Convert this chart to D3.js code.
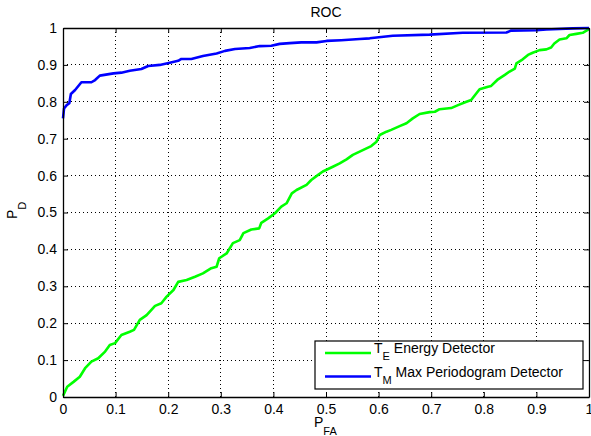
<!DOCTYPE html>
<html>
<head>
<meta charset="utf-8">
<script src="https://cdn.jsdelivr.net/npm/d3@7"></script>
<style>
body { margin: 0; background: #fff; }
text { font-family: "Liberation Sans", Arial, Helvetica, sans-serif; fill: #000; }
</style>
</head>
<body>
<script>
// ticks
var tickVals = [0, 0.1, 0.2, 0.3, 0.4, 0.5, 0.6, 0.7, 0.8, 0.9, 1];
var tickLabels = ["0", "0.1", "0.2", "0.3", "0.4", "0.5", "0.6", "0.7", "0.8", "0.9", "1"];

// T_E energy detector
var pfaE = [0, 0.008, 0.02, 0.032, 0.042, 0.054, 0.067, 0.08, 0.089, 0.099, 0.111, 0.127, 0.135, 0.146, 0.159,
  0.175, 0.187, 0.197, 0.21, 0.219, 0.235, 0.251, 0.266, 0.282, 0.292, 0.297, 0.311, 0.323, 0.336, 0.343,
  0.358, 0.373, 0.377, 0.39, 0.403, 0.415, 0.425, 0.435, 0.444, 0.463, 0.472, 0.485, 0.494, 0.513, 0.526,
  0.539, 0.551, 0.57, 0.586, 0.596, 0.602, 0.615, 0.624, 0.64, 0.653, 0.665, 0.678, 0.697, 0.707, 0.716,
  0.738, 0.751, 0.767, 0.776, 0.786, 0.792, 0.808, 0.814, 0.827, 0.84, 0.849, 0.859, 0.862, 0.874, 0.884,
  0.893, 0.906, 0.919, 0.928, 0.934, 0.944, 0.957, 0.963, 0.976, 0.988, 1];
var pdE = [0.003, 0.028, 0.041, 0.055, 0.078, 0.096, 0.105, 0.123, 0.141, 0.146, 0.168, 0.177, 0.182, 0.209, 0.222,
  0.247, 0.254, 0.272, 0.29, 0.312, 0.317, 0.326, 0.335, 0.349, 0.353, 0.376, 0.389, 0.417, 0.425, 0.444,
  0.454, 0.457, 0.472, 0.484, 0.498, 0.516, 0.525, 0.552, 0.561, 0.575, 0.588, 0.602, 0.611, 0.624, 0.633,
  0.644, 0.656, 0.669, 0.68, 0.692, 0.71, 0.719, 0.724, 0.734, 0.742, 0.755, 0.767, 0.772, 0.773, 0.78,
  0.783, 0.791, 0.8, 0.805, 0.823, 0.834, 0.841, 0.843, 0.861, 0.873, 0.882, 0.89, 0.904, 0.915, 0.927,
  0.933, 0.94, 0.942, 0.947, 0.958, 0.969, 0.972, 0.981, 0.984, 0.987, 0.997];

// T_M max periodogram detector
var pfaM = [0, 0.002, 0.007, 0.012, 0.015, 0.023, 0.035, 0.054, 0.061, 0.07, 0.096, 0.111, 0.127, 0.149, 0.162,
  0.184, 0.203, 0.219, 0.225, 0.244, 0.266, 0.292, 0.308, 0.327, 0.355, 0.374, 0.396, 0.412, 0.431, 0.453,
  0.482, 0.501, 0.529, 0.564, 0.583, 0.627, 0.697, 0.76, 0.843, 0.852, 0.9, 0.919, 0.969, 1];
var pdM = [0.755, 0.782, 0.791, 0.796, 0.821, 0.832, 0.853, 0.853, 0.859, 0.871, 0.877, 0.879, 0.884, 0.889, 0.897,
  0.9, 0.906, 0.911, 0.916, 0.916, 0.924, 0.931, 0.938, 0.943, 0.946, 0.951, 0.952, 0.957, 0.959, 0.961,
  0.961, 0.965, 0.967, 0.97, 0.972, 0.979, 0.982, 0.987, 0.988, 0.993, 0.994, 0.996, 0.999, 1];

var seriesNames = ["Energy Detector", "Max Periodogram Detector"];
var seriesSubs = ["E", "M"];
var seriesColors = ["#00ff00", "#0000ff"];

var W = 591, H = 436;
var margin = {top: 28, right: 2, bottom: 39, left: 63},
  width = W - margin.left - margin.right,
  height = H - margin.top - margin.bottom;

var svg = d3.select("body").append("svg")
  .attr("width", W)
  .attr("height", H);

var g = svg.append("g")
  .attr("transform", "translate(" + margin.left + "," + margin.top + ")");

var x = d3.scaleLinear().domain([0, 1]).range([0, width]);
var y = d3.scaleLinear().domain([0, 1]).range([height, 0]);

// 格線
var inner = tickVals.slice(1, -1);
g.selectAll("line.gx").data(inner).enter().append("line")
  .attr("x1", d => x(d)).attr("x2", d => x(d))
  .attr("y1", 0).attr("y2", height)
  .attr("stroke", "#000").attr("stroke-width", 1)
  .attr("stroke-dasharray", "1,3")
  .attr("shape-rendering", "crispEdges");
g.selectAll("line.gy").data(inner).enter().append("line")
  .attr("y1", d => y(d)).attr("y2", d => y(d))
  .attr("x1", 0).attr("x2", width)
  .attr("stroke", "#000").attr("stroke-width", 1)
  .attr("stroke-dasharray", "1,3")
  .attr("shape-rendering", "crispEdges");

// curves
var line = d3.line()
  .x(d => x(d[0]))
  .y(d => y(d[1]));

var series = [d3.zip(pfaE, pdE), d3.zip(pfaM, pdM)];
g.selectAll("path.roc").data(series).enter().append("path")
  .attr("class", "roc")
  .attr("d", line)
  .attr("fill", "none")
  .attr("stroke", (d, i) => seriesColors[i])
  .attr("stroke-width", 2.6)
  .attr("stroke-linejoin", "round");

// axes, ticks pointing inward like matlab
function fmt(d) { return tickLabels[tickVals.indexOf(d)]; }

var xAxis = d3.axisBottom(x).tickValues(tickVals).tickFormat(fmt)
  .tickSizeInner(-5).tickSizeOuter(0).tickPadding(7);
var yAxis = d3.axisLeft(y).tickValues(tickVals).tickFormat(fmt)
  .tickSizeInner(-5).tickSizeOuter(0).tickPadding(6);
var xTop = d3.axisTop(x).tickValues(tickVals).tickFormat("")
  .tickSizeInner(-5).tickSizeOuter(0);
var yRight = d3.axisRight(y).tickValues(tickVals).tickFormat("")
  .tickSizeInner(-5).tickSizeOuter(0);

g.append("g").attr("transform", "translate(0," + height + ")").call(xAxis);
g.append("g").call(yAxis);
g.append("g").call(xTop);
g.append("g").attr("transform", "translate(" + width + ",0)").call(yRight);

g.selectAll(".domain").attr("stroke", "#000").attr("stroke-width", 1.3);
g.selectAll(".tick line").attr("stroke", "#000");
g.selectAll(".tick text")
  .style("font-family", "'Liberation Sans', Arial, sans-serif")
  .style("font-size", "14px").attr("fill", "#000");

// title
svg.append("text")
  .attr("x", margin.left + width / 2).attr("y", 17)
  .attr("text-anchor", "middle")
  .style("font-size", "14px")
  .text("ROC");

// x label
var xl = svg.append("text")
  .attr("x", 314).attr("y", 427)
  .style("font-size", "14px");
xl.append("tspan").text("P");
xl.append("tspan").attr("dy", 8).style("font-size", "11px").text("FA");

// y label
var yl = svg.append("text")
  .attr("transform", "translate(17,219) rotate(-90)")
  .style("font-size", "14px");
yl.append("tspan").text("P");
yl.append("tspan").attr("dy", 9).style("font-size", "11px").text("D");

// legend
var leg = svg.append("g").attr("transform", "translate(315,341)");
leg.append("rect")
  .attr("width", 268).attr("height", 48)
  .attr("fill", "#fff").attr("stroke", "#000").attr("stroke-width", 1.2);

var items = leg.selectAll("g.item").data(seriesNames).enter().append("g")
  .attr("transform", (d, i) => "translate(0," + (12 + i * 23.5) + ")");
items.append("line")
  .attr("x1", 10).attr("x2", 56)
  .attr("stroke", (d, i) => seriesColors[i])
  .attr("stroke-width", 2.6);
var lt = items.append("text")
  .attr("x", 59).attr("y", 0)
  .style("font-size", "14px");
lt.append("tspan").text("T");
lt.append("tspan").attr("dy", 7).style("font-size", "11px").text((d, i) => seriesSubs[i]);
lt.append("tspan").attr("dy", -7).text(d => " " + d);
</script>
</body>
</html>
